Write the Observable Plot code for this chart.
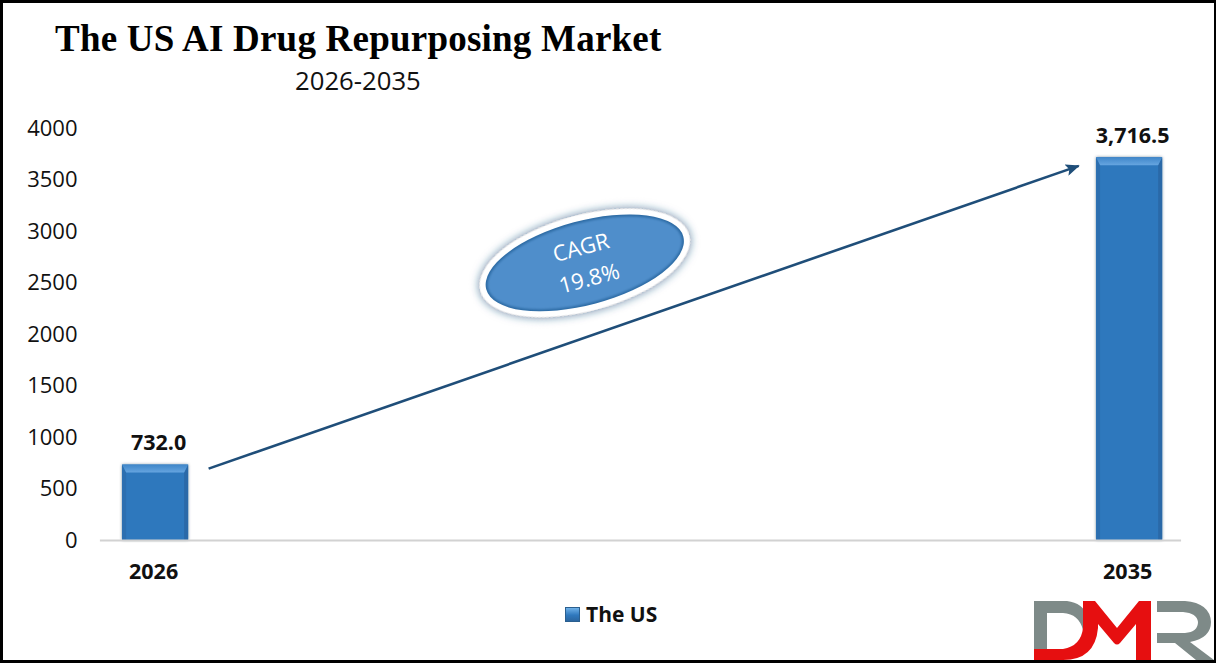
<!DOCTYPE html>
<html>
<head>
<meta charset="utf-8">
<script src="https://cdn.jsdelivr.net/npm/d3@7"></script>
<script src="https://cdn.jsdelivr.net/npm/@observablehq/plot@0.6"></script>
<style>
html,body{margin:0;padding:0;background:#fff;}
#page{position:relative;width:1216px;height:663px;overflow:hidden;box-sizing:border-box;}
#frame{position:absolute;inset:0;box-sizing:border-box;border:solid #000;border-width:3px 2px 3px 3px;z-index:5;pointer-events:none;}
#chart{position:absolute;left:0;top:99px;}
#title{position:absolute;left:55px;top:17px;font:bold 37px "Liberation Serif",serif;letter-spacing:.22px;color:#000;white-space:nowrap;}
#subtitle{position:absolute;left:295px;top:63px;font:25.7px "Open Sans",sans-serif;color:#111;white-space:nowrap;}
#legend{position:absolute;left:565px;top:600px;font:bold 21px "Open Sans",sans-serif;color:#111;display:flex;align-items:center;gap:6px;}
#legend i{display:block;width:15px;height:15px;background:linear-gradient(180deg,#6fb1e8 0,#2f78bd 55%,#2b66a0 100%);border:1px solid #2a5f8f;box-sizing:border-box;}
#logo{position:absolute;left:1033px;top:600px;z-index:6;}
</style>
</head>
<body>
<div id="page">
<div id="title">The US AI Drug Repurposing Market</div>
<div id="subtitle">2026-2035</div>
<div id="chart"></div>
<div id="legend"><i></i><span>The US</span></div>
<div id="frame"></div>
<svg id="logo" width="181" height="60" viewBox="0 0 181 60" aria-label="DMR">
<path d="M1 1H34Q50 3 54 16L50 30Q46 14 30 13H14V49H1Z" fill="#7e8a88"/>
<path d="M1 49H30Q48 46 50 28V1H62L84 28L106 1H118V60H103V24L87 43Q84 46 81 43L65 24V28Q62 60 30 60H1Z" fill="#e60f10"/>
<path d="M124 1H152Q177 3 178 22Q178 38 157 42L181 60H163L142 43H124V33H152Q165 32 165 22Q164 13 150 12H124Z" fill="#7e8a88"/>
</svg>
</div>
<script>
const years = [2026, 2035];
const values = [732.0, 3716.5];
const labels = ["732.0", "3,716.5"];
const yTicks = [0, 500, 1000, 1500, 2000, 2500, 3000, 3500, 4000];
const barHalfWidth = 0.305;
const arrowYears = [2026.49, 2034.53];
const arrowValues = [698, 3637];
const badgeYear = 2029.97;
const badgeValue = 2690;
const badgeText = ["CAGR", "19.8%"];
const rows = years.map((year, i) => ({year, value: values[i], label: labels[i]}));
const font = '"Open Sans", sans-serif';

const defs = () => {
  const s = d3.create("svg:g");
  s.html(`<defs>
    <linearGradient id="topBevel" x1="0" x2="0" y1="0" y2="1">
      <stop offset="0" stop-color="#3f86c9"/><stop offset="1" stop-color="#66a5e0"/>
    </linearGradient>
    <filter id="barShadow" x="-20%" y="-5%" width="140%" height="110%">
      <feDropShadow dx="0" dy="0" stdDeviation="1.8" flood-color="#17324d" flood-opacity=".55"/>
    </filter>
    <filter id="ovalGlow" x="-20%" y="-40%" width="140%" height="180%">
      <feDropShadow dx="0" dy="0" stdDeviation="5" flood-color="#1f4e79" flood-opacity=".75"/>
    </filter>
    <filter id="ovalEdge" x="-10%" y="-20%" width="120%" height="140%">
      <feGaussianBlur stdDeviation="1.2"/>
    </filter>
    <marker id="arrowHead" viewBox="0 0 14 12" refX="13" refY="6" markerWidth="14" markerHeight="12" markerUnits="userSpaceOnUse" orient="auto">
      <path d="M0 0L14 6L0 12L3 6Z" fill="#1f4e79"/>
    </marker>
  </defs>`);
  return s.node();
};

const bevels = (index, scales) => {
  const g = d3.create("svg:g");
  const top = 8, side = 4;
  for (const d of rows) {
    const l = scales.x(d.year - barHalfWidth), r = scales.x(d.year + barHalfWidth);
    const t = scales.y(d.value), b = scales.y(0);
    const poly = (pts, fill) => g.append("polygon").attr("points", pts.map(p => p.join(",")).join(" ")).attr("fill", fill);
    poly([[l, b], [l, t], [l + side, t + top], [l + side, b]], "#2c6fb0");
    poly([[r, b], [r, t], [r - side, t + top], [r - side, b]], "#2a69a8");
    poly([[l, t], [r, t], [r - side, t + top], [l + side, t + top]], "url(#topBevel)");
  }
  return g.node();
};

const badge = (index, scales) => {
  const cx = scales.x(badgeYear), cy = scales.y(badgeValue);
  const g = d3.create("svg:g").attr("transform", `translate(${cx},${cy}) rotate(-15)`);
  g.append("ellipse").attr("rx", 108).attr("ry", 48).attr("fill", "#fff").attr("filter", "url(#ovalGlow)");
  g.append("ellipse").attr("rx", 102).attr("ry", 42).attr("fill", "#2c6aa3");
  g.append("ellipse").attr("rx", 100).attr("ry", 40).attr("fill", "#4f8ecb").attr("filter", "url(#ovalEdge)");
  return g.node();
};

const plot = Plot.plot({
  width: 1216,
  height: 470,
  marginTop: 29,
  marginBottom: 29,
  marginLeft: 101,
  marginRight: 36,
  style: {background: "transparent", overflow: "visible"},
  x: {domain: [2025.5, 2035.47], axis: null},
  y: {domain: [0, 4000], axis: null},
  marks: [
    defs,
    Plot.rectY(rows, {
      x1: d => d.year - barHalfWidth,
      x2: d => d.year + barHalfWidth,
      y1: 0, y2: "value",
      fill: "#2f78bd",
      render: (i, s, v, d, c, next) => { const n = next(i, s, v, d, c); n.setAttribute("filter", "url(#barShadow)"); return n; }
    }),
    bevels,
    Plot.ruleY([0], {x1: 2025.49, x2: 2035.48, stroke: "#d2d2d2", strokeWidth: 2}),
    Plot.text(yTicks, {
      x: 2025.5, y: d => d, text: d => String(d), textAnchor: "end", dx: -24,
      fontFamily: font, fontSize: 22, fill: "#111"
    }),
    Plot.text(rows, {
      x: "year", y: 0, text: d => String(d.year), dy: 32, dx: -2,
      fontFamily: font, fontSize: 21.5, fontWeight: 700, fill: "#111"
    }),
    Plot.text(rows, {
      x: "year", y: "value", text: "label", dy: -22, dx: 3,
      fontFamily: font, fontSize: 21.5, fontWeight: 700, fill: "#111"
    }),
    Plot.link([0], {
      x1: () => arrowYears[0], x2: () => arrowYears[1],
      y1: () => arrowValues[0], y2: () => arrowValues[1],
      stroke: "#1f4e79", strokeWidth: 2.6,
      render: (i, s, v, d, c, next) => {
        const n = next(i, s, v, d, c);
        n.querySelectorAll("path,line").forEach(p => p.setAttribute("marker-end", "url(#arrowHead)"));
        return n;
      }
    }),
    badge,
    Plot.text(badgeText, {
      x: () => badgeYear, y: () => badgeValue, text: d => d,
      rotate: -15,
      fontFamily: font, fontSize: 22, fill: "#fff",
      render: (i, s, v, d, c, next) => {
        const n = next(i, s, v, d, c);
        n.querySelectorAll("text").forEach((t, k) => {
          const a = -15 * Math.PI / 180, off = k === 0 ? -16 : 16;
          const tr = t.getAttribute("transform");
          t.setAttribute("transform", `translate(${-Math.sin(a) * off},${Math.cos(a) * off}) ` + tr);
        });
        return n;
      }
    })
  ]
});
document.getElementById("chart").appendChild(plot);
</script>
</body>
</html>
